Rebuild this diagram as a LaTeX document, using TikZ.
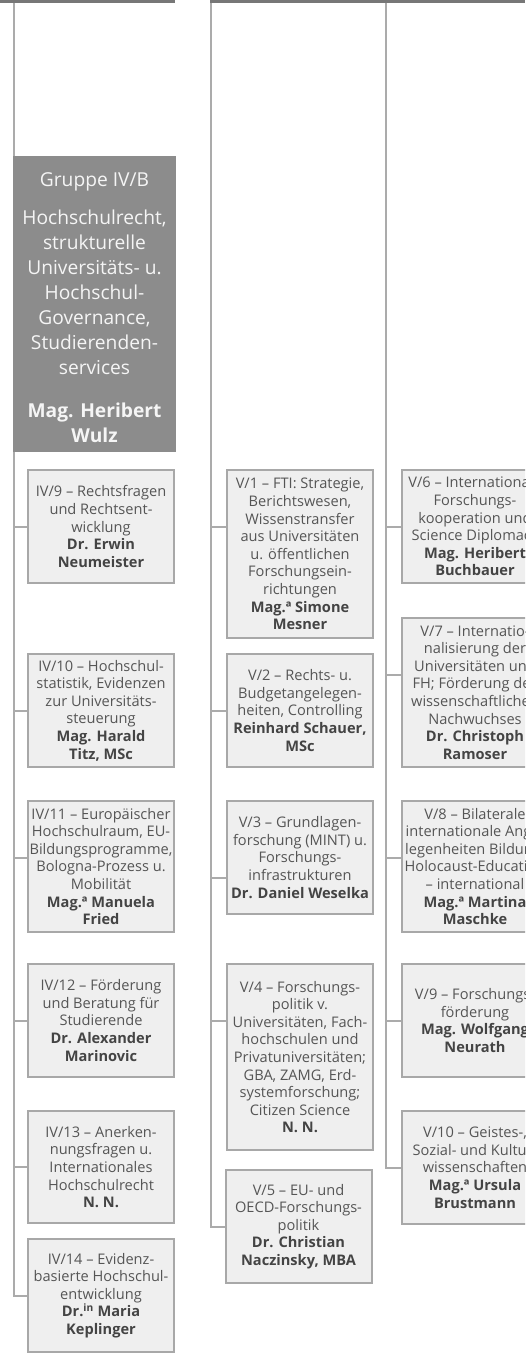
\documentclass[tikz,border=0pt]{standalone}
\usepackage{fontspec}
\setmainfont{Open Sans}
\usetikzlibrary{calc}
\definecolor{bar}{HTML}{777777}
\definecolor{linec}{HTML}{ABABAB}
\definecolor{boxfill}{HTML}{EFEFEF}
\definecolor{boxline}{HTML}{A8A8A8}
\definecolor{txt}{HTML}{555555}
\definecolor{txtb}{HTML}{444444}
\definecolor{grp}{HTML}{8C8C8C}
\definecolor{grptxt}{HTML}{F5F5F5}
\newcommand{\nmx}[1]{\textcolor{txtb}{\bfseries #1}}
\begin{document}
\begin{tikzpicture}[x=1pt,y=-1pt,
  unit/.style={draw=boxline, line width=2pt, fill=boxfill, minimum width=146pt,
    align=center, text=txt, inner sep=0pt,
    font=\fontsize{14.6}{17.6}\selectfont},
  conn/.style={draw=linec, line width=2pt},
  grpbox/.style={fill=grp, minimum width=163pt, minimum height=296pt, inner sep=0pt},
  grptext/.style={align=center, text=grptxt, inner sep=0pt,
    font=\fontsize{19.2}{25}\selectfont}]
\useasboundingbox (0,0) rectangle (525,1371);
\fill[white] (0,0) rectangle (525,1371);
\clip (0,0) rectangle (525,1371);
% top bars
\fill[bar] (0,0) rectangle (175,3);
\fill[bar] (210,0) rectangle (525,3);
% trunk tops
\coordinate (tL) at (14,3);
\coordinate (tM) at (211,3);
\coordinate (tR) at (386,3);
% group box
\node[grpbox] (grp) at (94.5,304) {};
\node[grptext] (gt) at (94.5,308) {Gruppe IV/B\\[13pt]
  Hochschulrecht,\\ strukturelle\\ Universitäts- u.\\ Hochschul-\\ Governance,\\ Studierenden-\\ services\\[18pt]
  \textbf{Mag. Heribert}\\ \textbf{Wulz}};
% left column
\node[unit, minimum height=113pt] (iv9) at (101,526.5) {IV/9 – Rechtsfragen\\ und Rechtsent-\\ wicklung\\ \nmx{Dr. Erwin}\\ \nmx{Neumeister}};
\node[unit, minimum height=113pt] (iv10) at (101,710.5) {IV/10 – Hochschul-\\ statistik, Evidenzen\\ zur Universitäts-\\ steuerung\\ \nmx{Mag. Harald}\\ \nmx{Titz, MSc}};
\node[unit, minimum height=131pt] (iv11) at (101,866.5) {IV/11 – Europäischer\\ Hochschulraum, EU-\\ Bildungsprogramme,\\ Bologna-Prozess u.\\ Mobilität\\ \nmx{Mag.ª Manuela}\\ \nmx{Fried}};
\node[unit, minimum height=113pt] (iv12) at (101,1020.5) {IV/12 – Förderung\\ und Beratung für\\ Studierende\\ \nmx{Dr. Alexander}\\ \nmx{Marinovic}};
\node[unit, minimum height=112pt] (iv13) at (101,1167) {IV/13 – Anerken-\\ nungsfragen u.\\ Internationales\\ Hochschulrecht\\ \nmx{N. N.}};
\node[unit, minimum height=113pt] (iv14) at (101,1295.5) {IV/14 – Evidenz-\\ basierte Hochschul-\\ entwicklung\\ \nmx{Dr.\textsuperscript{in} Maria}\\ \nmx{Keplinger}};
% middle column
\node[unit, minimum height=168pt] (v1) at (300,554) {V/1 – FTI: Strategie,\\ Berichtswesen,\\ Wissenstransfer\\ aus Universitäten\\ u. öffentlichen\\ Forschungsein-\\ richtungen\\ \nmx{Mag.ª Simone}\\ \nmx{Mesner}};
\node[unit, minimum height=113pt] (v2) at (300,710.5) {V/2 – Rechts- u.\\ Budgetangelegen-\\ heiten, Controlling\\ \nmx{Reinhard Schauer,}\\ \nmx{MSc}};
\node[unit, minimum height=113pt] (v3) at (300,857.5) {V/3 – Grundlagen-\\ forschung (MINT) u.\\ Forschungs-\\ infrastrukturen\\ \nmx{Dr. Daniel Weselka}};
\node[unit, minimum height=186pt] (v4) at (300,1057) {V/4 – Forschungs-\\ politik v.\\ Universitäten, Fach-\\ hochschulen und\\ Privatuniversitäten;\\ GBA, ZAMG, Erd-\\ systemforschung;\\ Citizen Science\\ \nmx{N. N.}};
\node[unit, minimum height=113pt] (v5) at (298.5,1226.5) {V/5 – EU- und\\ OECD-Forschungs-\\ politik\\ \nmx{Dr. Christian}\\ \nmx{Naczinsky, MBA}};
% right column
\node[unit, minimum height=113pt] (v6) at (475,526.5) {V/6 – Internationale\\ Forschungs-\\ kooperation und\\ Science Diplomacy\\ \nmx{Mag. Heribert}\\ \nmx{Buchbauer}};
\node[unit, minimum height=149pt] (v7) at (475,692.5) {V/7 – Internatio-\\ nalisierung der\\ Universitäten und\\ FH; Förderung des\\ wissenschaftlichen\\ Nachwuchses\\ \nmx{Dr. Christoph}\\ \nmx{Ramoser}};
\node[unit, minimum height=131pt] (v8) at (475,866.5) {V/8 – Bilaterale\\ internationale Ange-\\ legenheiten Bildung;\\ Holocaust-Education\\ – international\\ \nmx{Mag.ª Martina}\\ \nmx{Maschke}};
\node[unit, minimum height=113pt] (v9) at (475,1020.5) {V/9 – Forschungs-\\ förderung\\ \nmx{Mag. Wolfgang}\\ \nmx{Neurath}};
\node[unit, minimum height=113pt] (v10) at (475,1167.5) {V/10 – Geistes-,\\ Sozial- und Kultur-\\ wissenschaften\\ \nmx{Mag.ª Ursula}\\ \nmx{Brustmann}};
% connector heights
\coordinate (c11) at (0,858);
\coordinate (cv1) at (0,527);
\coordinate (cv3) at (0,878);
\coordinate (cv4) at (0,1021);
\coordinate (cv7) at (0,675);
\coordinate (cv8) at (0,858);
% trunks
\draw[conn] (tL) -- (tL |- grp.north);
\draw[conn] (tL |- grp.south) |- (iv14.west);
\draw[conn] (tM) |- (v5.west);
\draw[conn] (tR) |- (v10.west);
% left connectors
\draw[conn] (tL |- iv9.west) -- (iv9.west);
\draw[conn] (tL |- iv10.west) -- (iv10.west);
\draw[conn] (tL |- c11) -- (iv11.west |- c11);
\draw[conn] (tL |- iv12.west) -- (iv12.west);
\draw[conn] (tL |- iv13.west) -- (iv13.west);
% middle connectors
\draw[conn] (tM |- cv1) -- (v1.west |- cv1);
\draw[conn] (tM |- v2.west) -- (v2.west);
\draw[conn] (tM |- cv3) -- (v3.west |- cv3);
\draw[conn] (tM |- cv4) -- (v4.west |- cv4);
% right connectors
\draw[conn] (tR |- v6.west) -- (v6.west);
\draw[conn] (tR |- cv7) -- (v7.west |- cv7);
\draw[conn] (tR |- cv8) -- (v8.west |- cv8);
\draw[conn] (tR |- v9.west) -- (v9.west);
\end{tikzpicture}
\end{document}
